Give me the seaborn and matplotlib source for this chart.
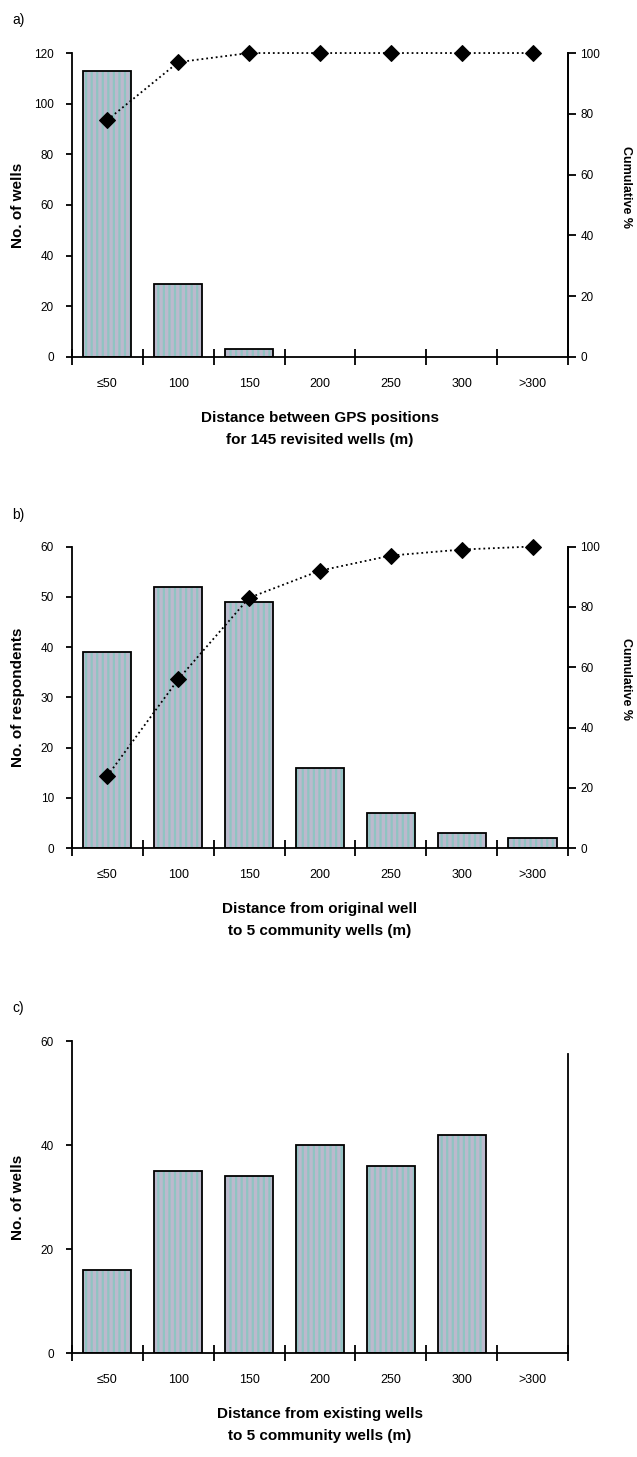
import numpy as np
import pandas as pd
import matplotlib
matplotlib.use('Agg')
import matplotlib.pyplot as plt
from matplotlib.patches import Rectangle
import seaborn as sns

# data
categories = ['≤50', '100', '150', '200', '250', '300', '>300']

wells_gps = [113, 29, 3, 0, 0, 0, 0]
cum_gps = [78, 97, 100, 100, 100, 100, 100]

respondents = [39, 52, 49, 16, 7, 3, 2]
cum_respondents = [24, 56, 83, 92, 97, 99, 100]

wells_existing = [16, 35, 34, 40, 36, 42, 0]

left_ticks_a = [0, 20, 40, 60, 80, 100, 120]
left_ticks_b = [0, 10, 20, 30, 40, 50, 60]
left_ticks_c = [0, 20, 40, 60]
right_ticks = [0, 20, 40, 60, 80, 100]

FACE = '#bcb9cd'
STRIPE = '#8fc4c2'

sns.set_style('ticks')
plt.rcParams['font.family'] = ['Liberation Sans', 'DejaVu Sans']
plt.rcParams['hatch.linewidth'] = 1.6
plt.rcParams['axes.linewidth'] = 1.3
for k in ['text.color', 'axes.labelcolor', 'xtick.color', 'ytick.color', 'axes.edgecolor']:
    plt.rcParams[k] = 'black'

fig = plt.figure(figsize=(6.37, 14.57), dpi=100)


def bars(ax, values, yticks, ymax, ylabel, xlabel, height_px):
    df = pd.DataFrame({'cat': categories, 'n': values})
    sns.barplot(data=df, x='cat', y='n', order=categories, color=FACE,
                saturation=1, width=0.68, ax=ax)
    for p in list(ax.patches):
        p.set_hatch('|||')
        p.set_edgecolor(STRIPE)
        p.set_linewidth(0)
        if p.get_height() > 0:
            ax.add_patch(Rectangle(p.get_xy(), p.get_width(), p.get_height(),
                                   fill=False, edgecolor='black', lw=1.3, zorder=3))
    ax.set_xlim(-0.5, 6.5)
    ax.set_ylim(0, ymax)
    ax.set_yticks(yticks)
    ax.set_xticks(np.arange(-0.5, 7, 1), minor=True)
    ax.tick_params(axis='y', direction='out', length=4, width=1.3, pad=9, labelsize=8.5)
    ax.tick_params(axis='x', which='major', length=0, pad=15, labelsize=9)
    ax.tick_params(axis='x', which='minor', direction='inout', length=12, width=1.3)
    ax.spines['top'].set_visible(False)
    ax.set_ylabel(ylabel, fontsize=11, fontweight='bold')
    ax.yaxis.set_label_coords(-0.095, 0.5)
    ax.set_xlabel(xlabel, fontsize=11, fontweight='bold', linespacing=1.7)
    ax.xaxis.set_label_coords(0.5, -54 / height_px)


def cumulative(ax, values):
    ax2 = ax.twinx()
    sns.lineplot(x=np.arange(len(values)), y=values, ax=ax2, color='black',
                 linestyle=':', linewidth=1.3, marker='D', markersize=8,
                 markeredgecolor='black', clip_on=False)
    ax2.set_xlim(-0.5, 6.5)
    ax2.set_ylim(0, 100)
    ax2.set_yticks(right_ticks)
    ax2.tick_params(axis='y', direction='out', length=6, width=1.3, pad=3, labelsize=8.5)
    for s in ['top', 'left', 'bottom']:
        ax2.spines[s].set_visible(False)
    ax2.set_ylabel('Cumulative %', fontsize=9, fontweight='bold', rotation=270)
    ax2.yaxis.set_label_coords(1.13, 0.56)
    return ax2


# a)
ax_a = fig.add_axes([0.1130, 0.7550, 0.7786, 0.2086])
bars(ax_a, wells_gps, left_ticks_a, 120, 'No. of wells',
     'Distance between GPS positions\nfor 145 revisited wells (m)', 304)
cumulative(ax_a, cum_gps)

# b)
ax_b = fig.add_axes([0.1130, 0.4178, 0.7786, 0.2071])
bars(ax_b, respondents, left_ticks_b, 60, 'No. of respondents',
     'Distance from original well\nto 5 community wells (m)', 302)
cumulative(ax_b, cum_respondents)

# c)
ax_c = fig.add_axes([0.1130, 0.0712, 0.7786, 0.2143])
bars(ax_c, wells_existing, left_ticks_c, 60, 'No. of wells',
     'Distance from existing wells\nto 5 community wells (m)', 312)
ax_c.spines['right'].set_bounds(0, 57.6)

for label, y in [('a)', 20), ('b)', 515), ('c)', 1008)]:
    fig.text(12 / 637, 1 - y / 1457, label, fontsize=10, va='center')

fig.savefig('out.png', dpi=100)
